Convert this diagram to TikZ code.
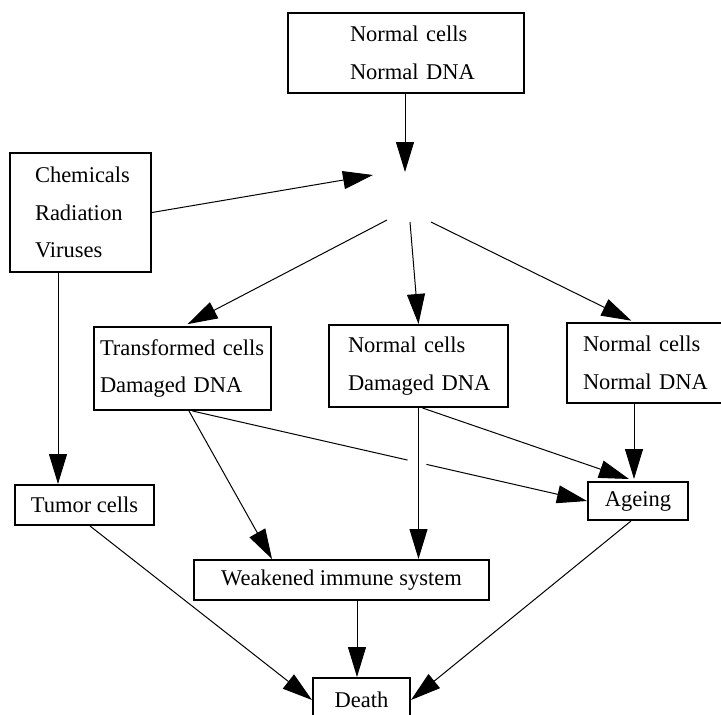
\documentclass[tikz,border=0pt]{standalone}
\usepackage{fontspec}
\setmainfont{Liberation Serif}
\usetikzlibrary{arrows.meta,calc}
\begin{document}
\begin{tikzpicture}[x=1pt,y=-1pt,
  box/.style={draw,line width=2pt,inner ysep=0pt,font=\fontsize{22.5}{37.5}\selectfont},
  arr/.style={line width=1pt,-{Triangle[length=30pt,width=18pt]}},
  ln/.style={line width=1pt}]
\useasboundingbox (0,0) rectangle (721,715);
\clip (0,0) rectangle (721,715);
\fill[white] (0,0) rectangle (721,715);

\node[box, align=left, text width=112pt, inner xsep=62pt, minimum height=80pt] (top) at (406,53) {\mbox{Normal cells}\\\mbox{Normal DNA}};
\node[box, align=left, text width=91pt, inner xsep=25pt, minimum height=119pt] (agents) at (80.5,212.5) {\mbox{Chemicals}\\\mbox{Radiation}\\\mbox{Viruses}};
\node[box, align=left, text width=165pt, inner xsep=6pt, minimum height=83pt] (trans) at (182.5,368.5) {\mbox{Transformed cells}\\\mbox{Damaged DNA}};
\node[box, align=left, text width=141pt, inner xsep=19pt, minimum height=82pt] (mid) at (418.5,366) {\mbox{Normal cells}\\\mbox{Damaged DNA}};
\node[box, align=left, text width=125pt, inner xsep=16pt, minimum height=80pt] (right) at (645.5,363) {\mbox{Normal cells}\\\mbox{Normal DNA}};
\node[box, inner xsep=0pt, minimum width=139pt, minimum height=40pt] (tumor) at (84.5,505) {Tumor cells};
\node[box, inner xsep=0pt, minimum width=100pt, minimum height=38pt] (ageing) at (638,501) {Ageing};
\node[box, inner xsep=0pt, minimum width=295pt, minimum height=40pt] (weak) at (341.5,580) {Weakened immune system};
\node[box, inner xsep=0pt, minimum width=97pt, minimum height=44pt] (death) at (361.5,700) {Death};

\coordinate (meet1) at (405,172);
\coordinate (meet2) at (373,175);
\coordinate (out1) at (387,220);
\coordinate (out2) at (410,222);
\coordinate (out3) at (431,222);

\draw[arr] (top.south -| meet1) -- (meet1);
\draw[arr] (agents.east) -- (meet2);
\draw[arr,shorten >=4pt] (out1) -- ([xshift=1.5pt]trans.north);
\draw[arr] (out2) -- (mid.north);
\draw[arr,shorten >=3pt] (out3) -- ([xshift=-11.5pt]right.north);
\draw[arr] ([xshift=-22.5pt]agents.south) -- ([xshift=-26.5pt]tumor.north);

\coordinate (tA) at ([xshift=10pt]trans.south);
\draw[ln] (tA) -- ($(tA)!0.545!(ageing.west)$);
\draw[arr] ($(tA)!0.593!(ageing.west)$) -- (ageing.west);
\draw[arr] ([xshift=6.5pt]trans.south) -- ([xshift=-69.5pt]weak.north);
\draw[arr] (mid.south) -- (mid.south |- weak.north);
\draw[arr] ([xshift=4pt]mid.south) -- ([xshift=-9pt,yshift=2pt]ageing.north);
\draw[arr] ([xshift=-11.5pt]right.south) -- ([xshift=-4pt,yshift=2pt]ageing.north);
\draw[arr] ([xshift=5.5pt]tumor.south) -- (death.west);
\draw[arr] ([xshift=15.5pt]weak.south) -- ([xshift=-4.5pt]death.north);
\draw[arr] ([xshift=-7pt]ageing.south) -- (death.east);
\end{tikzpicture}
\end{document}
